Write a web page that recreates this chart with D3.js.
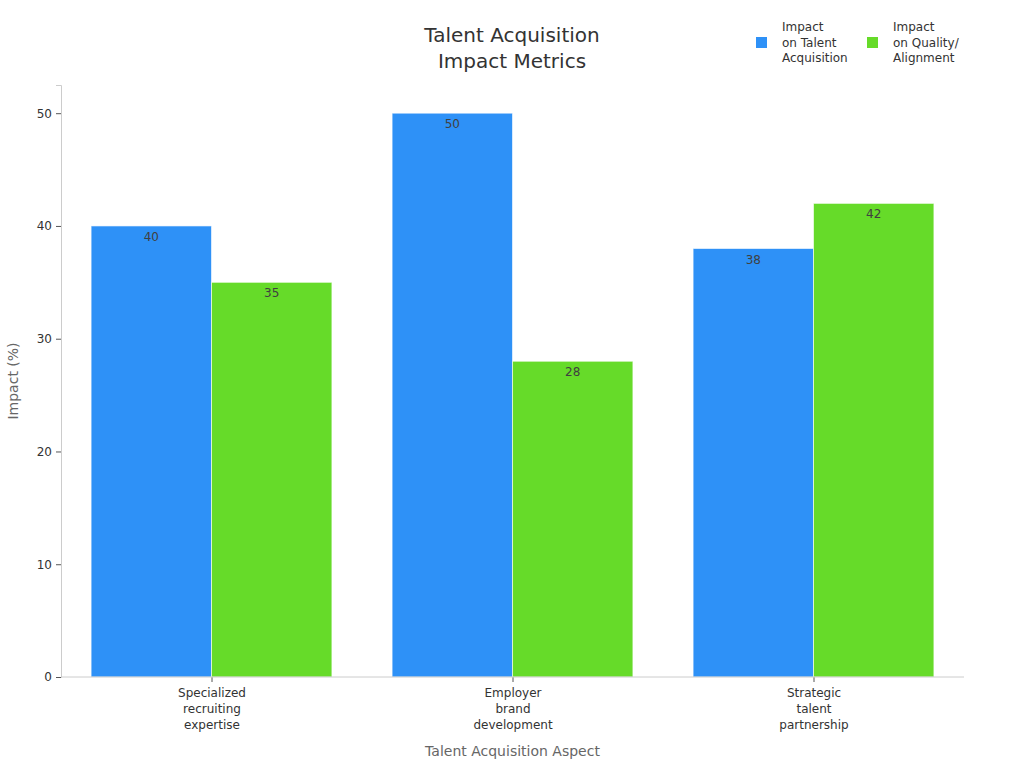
<!DOCTYPE html>
<html>
<head>
<meta charset="utf-8">
<script src="https://cdn.jsdelivr.net/npm/d3@7"></script>
<style>
  body { margin: 0; background: #fff; }
  svg { font-family: "DejaVu Sans", sans-serif; }
</style>
</head>
<body>
<svg id="chart" width="1024" height="768"></svg>
<script>
// data
const categories = [
  ["Specialized", "recruiting", "expertise"],
  ["Employer", "brand", "development"],
  ["Strategic", "talent", "partnership"]
];
const seriesNames = [
  ["Impact", "on Talent", "Acquisition"],
  ["Impact", "on Quality/", "Alignment"]
];
const talentValues = [40, 50, 38];
const qualityValues = [35, 28, 42];
const yTicks = [0, 10, 20, 30, 40, 50];
const colors = ["#2E91F7", "#66DB29"];

const margin = { top: 85, right: 60, bottom: 91, left: 61 };
const width = 1024, height = 768;
const svg = d3.select("#chart");

const x0 = d3.scaleBand()
  .domain(d3.range(categories.length))
  .range([margin.left, width - margin.right])
  .paddingInner(0.2)
  .paddingOuter(0.1);

const x1 = d3.scaleBand()
  .domain([0, 1])
  .range([0, x0.bandwidth()]);

const y = d3.scaleLinear()
  .domain([0, 52.5])
  .range([height - margin.bottom, margin.top]);

// bars
const series = [talentValues, qualityValues];
const groups = svg.append("g")
  .selectAll("g")
  .data(categories.map((c, i) => i))
  .enter().append("g")
  .attr("transform", i => `translate(${x0(i)},0)`);

groups.selectAll("rect")
  .data(i => series.map((s, k) => ({ k, v: s[i] })))
  .enter().append("rect")
  .attr("x", d => x1(d.k))
  .attr("y", d => y(d.v))
  .attr("width", x1.bandwidth())
  .attr("height", d => y(0) - y(d.v))
  .attr("fill", d => colors[d.k])
  .attr("stroke", "#ffffff")
  .attr("stroke-opacity", 0.6)
  .attr("stroke-width", 1);

groups.selectAll("text.val")
  .data(i => series.map((s, k) => ({ k, v: s[i] })))
  .enter().append("text")
  .attr("class", "val")
  .attr("x", d => x1(d.k) + x1.bandwidth() / 2)
  .attr("y", d => y(d.v) + 15)
  .attr("text-anchor", "middle")
  .attr("font-size", 12)
  .attr("fill", "#404040")
  .text(d => d.v);

// y axis
const yAxis = svg.append("g")
  .attr("transform", `translate(${margin.left},0)`)
  .call(d3.axisLeft(y).tickValues(yTicks).tickSize(5).tickPadding(4));
yAxis.select(".domain").attr("stroke", "#cccccc");
yAxis.selectAll(".tick line").attr("stroke", "#555");
yAxis.selectAll(".tick text").attr("font-size", 12).attr("fill", "#333")
  .attr("font-family", "DejaVu Sans, sans-serif");

// x axis
const xAxis = svg.append("g")
  .attr("transform", `translate(0,${y(0)})`)
  .call(d3.axisBottom(d3.scalePoint()
      .domain(d3.range(categories.length))
      .range([x0(0) + x0.bandwidth() / 2, x0(categories.length - 1) + x0.bandwidth() / 2]))
    .tickSize(5).tickFormat(""));
xAxis.select(".domain").remove();
xAxis.selectAll(".tick line").attr("stroke", "#555");
svg.append("line")
  .attr("x1", margin.left).attr("x2", width - margin.right)
  .attr("y1", y(0)).attr("y2", y(0))
  .attr("stroke", "#cccccc");

xAxis.selectAll(".tick").each(function (i) {
  const t = d3.select(this).append("text")
    .attr("text-anchor", "middle")
    .attr("font-size", 12)
    .attr("fill", "#333")
    .attr("font-family", "DejaVu Sans, sans-serif");
  categories[i].forEach((line, j) => {
    t.append("tspan").attr("x", 0).attr("y", 20 + j * 16).text(line);
  });
});

// axis titles
svg.append("text")
  .attr("x", (margin.left + width - margin.right) / 2)
  .attr("y", 756)
  .attr("text-anchor", "middle")
  .attr("font-size", 14)
  .attr("fill", "#666")
  .text("Talent Acquisition Aspect");

svg.append("text")
  .attr("transform", `translate(18,${(margin.top + y(0)) / 2}) rotate(-90)`)
  .attr("text-anchor", "middle")
  .attr("font-size", 14)
  .attr("fill", "#666")
  .text("Impact (%)");

// title
const title = svg.append("text")
  .attr("text-anchor", "middle")
  .attr("font-size", 20)
  .attr("fill", "#333");
["Talent Acquisition", "Impact Metrics"].forEach((line, j) => {
  title.append("tspan").attr("x", 512).attr("y", 42 + j * 26).text(line);
});

// legend
const legendX = [756, 867];
seriesNames.forEach((lines, k) => {
  const g = svg.append("g").attr("transform", `translate(${legendX[k]},0)`);
  g.append("rect")
    .attr("x", 0).attr("y", 37)
    .attr("width", 11).attr("height", 11)
    .attr("fill", colors[k]);
  const t = g.append("text")
    .attr("font-size", 12)
    .attr("fill", "#333");
  lines.forEach((line, j) => {
    t.append("tspan").attr("x", 26).attr("y", 31 + j * 15.5).text(line);
  });
});
</script>
</body>
</html>
